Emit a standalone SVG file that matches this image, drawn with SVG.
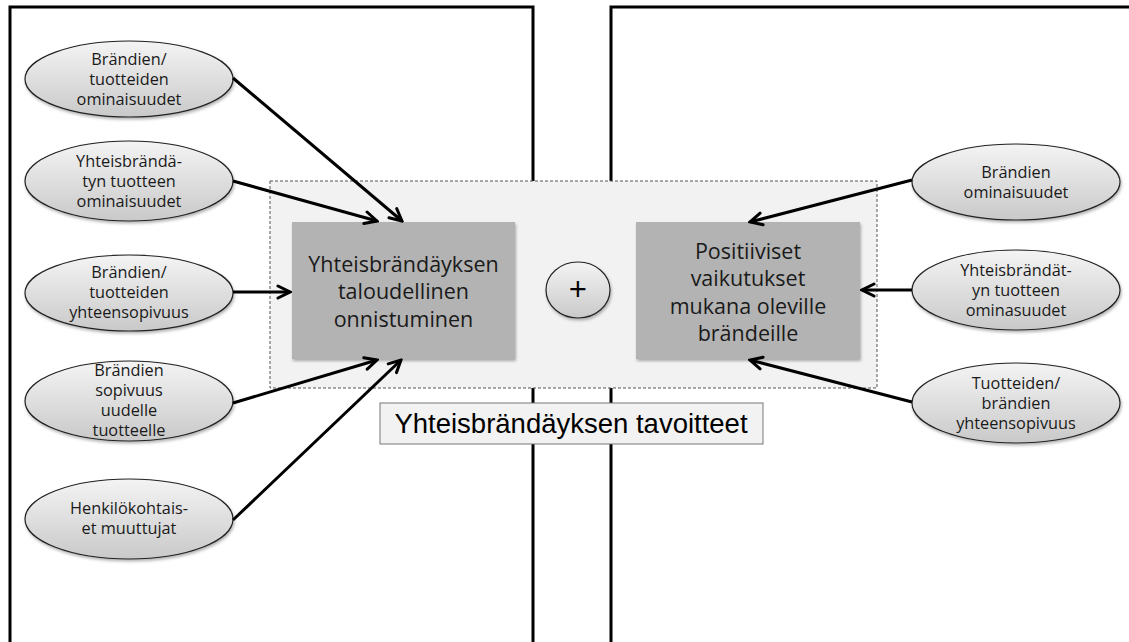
<svg xmlns="http://www.w3.org/2000/svg" width="1129" height="642" viewBox="0 0 1129 642">
<defs>
<linearGradient id="eg" x1="0" y1="0" x2="0" y2="1">
<stop offset="0" stop-color="#f4f4f4"/>
<stop offset="1" stop-color="#c9c9c9"/>
</linearGradient>
<filter id="sh" x="-10%" y="-10%" width="125%" height="130%">
<feDropShadow dx="1" dy="2" stdDeviation="1.5" flood-color="#000" flood-opacity="0.3"/>
</filter>
<marker id="ah" markerUnits="userSpaceOnUse" viewBox="0 0 16 16" refX="14" refY="8" markerWidth="16" markerHeight="16" orient="auto">
<path d="M2,2 L14,8 L2,14" fill="none" stroke="#000" stroke-width="3" stroke-linecap="round" stroke-linejoin="miter"/>
</marker>
<style>
.panel{fill:#fff;stroke:#000;stroke-width:3}
.ell{fill:url(#eg);stroke:#222;stroke-width:1.2;filter:url(#sh)}
.et{font-family:"Open Sans","DejaVu Sans",sans-serif;font-size:16.3px;fill:#1a1a1a;text-anchor:middle}
.bx{fill:#b3b3b3;filter:url(#sh)}
.bt{font-family:"Open Sans","DejaVu Sans",sans-serif;font-size:21.5px;fill:#1a1a1a;text-anchor:middle}
.con{stroke:#000;stroke-width:3;fill:none;marker-end:url(#ah)}
</style>
</defs>
<rect width="1129" height="642" fill="#fff"/>
<g id="panels">
<rect class="panel" x="10" y="7" width="523" height="660"/>
<rect class="panel" x="611" y="7" width="540" height="660"/>
</g>
<g id="goal-area">
<rect x="270" y="181" width="607" height="207" fill="#f2f2f2" stroke="#555" stroke-width="1" stroke-dasharray="3,2"/>
</g>
<g id="goal-label">
<rect x="380" y="403" width="383" height="41" fill="#f2f2f2" stroke="#777" stroke-width="1"/>
<text x="571" y="433" font-family="'Liberation Sans',Arial,sans-serif" font-size="27.5" fill="#000" text-anchor="middle">Yhteisbrändäyksen tavoitteet</text>
</g>
<g id="box-financial">
<rect class="bx" x="292" y="222" width="223" height="137"/>
<text class="bt"><tspan x="403.5" y="272">Yhteisbrändäyksen</tspan><tspan x="403.5" y="299">taloudellinen</tspan><tspan x="403.5" y="327">onnistuminen</tspan></text>
</g>
<g id="plus">
<ellipse cx="578" cy="290" rx="32" ry="28" fill="url(#eg)" stroke="#222" stroke-width="1.2" filter="url(#sh)"/>
<text x="578" y="301" font-family="'Open Sans','DejaVu Sans',sans-serif" font-size="32" fill="#000" text-anchor="middle">+</text>
</g>
<g id="box-positive">
<rect class="bx" x="636" y="222" width="224" height="137"/>
<text class="bt"><tspan x="748" y="259">Positiiviset</tspan><tspan x="748" y="286">vaikutukset</tspan><tspan x="748" y="314">mukana oleville</tspan><tspan x="748" y="341">brändeille</tspan></text>
</g>
<g id="l1"><ellipse class="ell" cx="129" cy="79" rx="104" ry="38"/>
<text class="et"><tspan x="129" y="65">Brändien/</tspan><tspan x="129" y="85">tuotteiden</tspan><tspan x="129" y="105">ominaisuudet</tspan></text></g>
<g id="l2"><ellipse class="ell" cx="129" cy="181" rx="104" ry="40"/>
<text class="et"><tspan x="129" y="167">Yhteisbrändä-</tspan><tspan x="129" y="187">tyn tuotteen</tspan><tspan x="129" y="207">ominaisuudet</tspan></text></g>
<g id="l3"><ellipse class="ell" cx="129" cy="293" rx="104" ry="38"/>
<text class="et"><tspan x="129" y="278">Brändien/</tspan><tspan x="129" y="298">tuotteiden</tspan><tspan x="129" y="318">yhteensopivuus</tspan></text></g>
<g id="l4"><ellipse class="ell" cx="129" cy="401" rx="104" ry="40"/>
<text class="et"><tspan x="129" y="376">Brändien</tspan><tspan x="129" y="396">sopivuus</tspan><tspan x="129" y="416">uudelle</tspan><tspan x="129" y="436">tuotteelle</tspan></text></g>
<g id="l5"><ellipse class="ell" cx="129" cy="519" rx="104" ry="40"/>
<text class="et"><tspan x="129" y="514">Henkilökohtais-</tspan><tspan x="129" y="534">et muuttujat</tspan></text></g>
<g id="r1"><ellipse class="ell" cx="1016" cy="182" rx="104" ry="38"/>
<text class="et"><tspan x="1016" y="178">Brändien</tspan><tspan x="1016" y="198">ominaisuudet</tspan></text></g>
<g id="r2"><ellipse class="ell" cx="1016" cy="290" rx="104" ry="40"/>
<text class="et"><tspan x="1016" y="276">Yhteisbrändät-</tspan><tspan x="1016" y="296">yn tuotteen</tspan><tspan x="1016" y="316">ominasuudet</tspan></text></g>
<g id="r3"><ellipse class="ell" cx="1016" cy="403" rx="104" ry="40"/>
<text class="et"><tspan x="1016" y="389">Tuotteiden/</tspan><tspan x="1016" y="409">brändien</tspan><tspan x="1016" y="429">yhteensopivuus</tspan></text></g>
<g id="connectors">
<line class="con" x1="233" y1="78" x2="402" y2="221"/>
<line class="con" x1="233" y1="181" x2="377" y2="221"/>
<line class="con" x1="233" y1="292" x2="290" y2="292"/>
<line class="con" x1="233" y1="403" x2="377" y2="360"/>
<line class="con" x1="233" y1="520" x2="401" y2="360"/>
<line class="con" x1="912" y1="180" x2="750" y2="222"/>
<line class="con" x1="912" y1="290" x2="862" y2="290"/>
<line class="con" x1="912" y1="402" x2="750" y2="360"/>
</g>
</svg>
